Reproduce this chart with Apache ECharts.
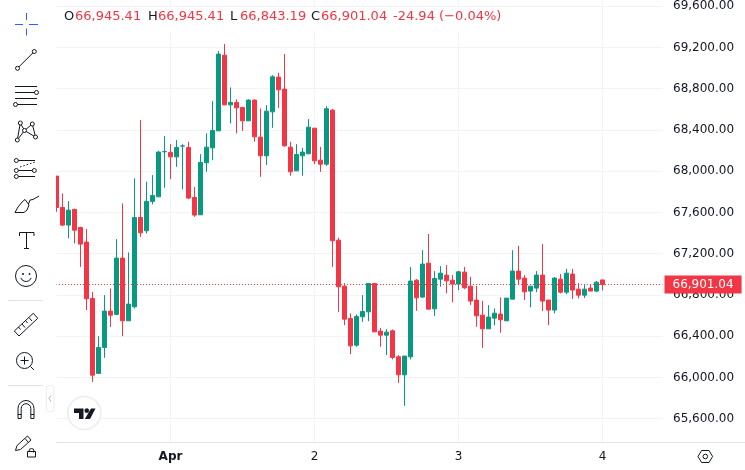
<!DOCTYPE html>
<html>
<head>
<meta charset="utf-8">
<title>chart</title>
<style>
html, body { margin: 0; padding: 0; background: #fff; }
#chart { width: 745px; height: 470px; }
</style>
<script src="https://cdn.jsdelivr.net/npm/echarts@6/dist/echarts.min.js"></script>
</head>
<body>
<div id="chart"></div>
<script>
// hourly candles
var opens = [67952, 67648, 67477, 67629, 67454, 67312, 66766, 66039, 66291, 66643, 66611, 67157, 66549, 66685, 67551, 67422, 67707, 67751, 68188, 68182, 68139, 68243, 68230, 67745, 67577, 68081, 68226, 68391, 69125, 68643, 68667, 68618, 68488, 68689, 68330, 68149, 68575, 68912, 68796, 68233, 68003, 68149, 68168, 68417, 68107, 68068, 68592, 67331, 66885, 66572, 66313, 66588, 66636, 66911, 66449, 66410, 66452, 66200, 66025, 66200, 66943, 66779, 67108, 66665, 66953, 66992, 66943, 66905, 67021, 66885, 66750, 66604, 66471, 66575, 66614, 66549, 66759, 67031, 66963, 66837, 66866, 66992, 66750, 66653, 66953, 66827, 67002, 66856, 66798, 66866, 66837, 66945.41];
var closes = [67648, 67477, 67622, 67428, 67293, 66762, 66022, 66291, 66643, 66604, 67157, 66549, 66711, 67551, 67402, 67707, 67765, 68185, 68190, 68139, 68230, 68245, 67739, 67574, 68085, 68233, 68395, 69135, 68643, 68667, 68614, 68488, 68689, 68333, 68149, 68582, 68915, 68789, 68246, 67994, 68162, 68185, 68427, 68100, 68068, 68605, 67325, 66879, 66565, 66306, 66591, 66640, 66911, 66442, 66410, 66439, 66194, 66025, 66207, 66934, 66772, 67099, 66662, 66960, 67011, 66937, 66905, 67024, 66869, 66740, 66597, 66471, 66585, 66623, 66559, 66769, 67031, 66953, 66830, 66885, 66992, 66740, 66653, 66963, 66827, 67011, 66847, 66798, 66856, 66837, 66924, 66901.04];
var lows = [67606, 67467, 67348, 67299, 67072, 66653, 65957, 66039, 66190, 66491, 66611, 66400, 66549, 66669, 67363, 67396, 67678, 67751, 67839, 67923, 68042, 67823, 67729, 67557, 67577, 67994, 68107, 68391, 68640, 68463, 68366, 68391, 68488, 68285, 67945, 68059, 68420, 68614, 68236, 67955, 68003, 67955, 68168, 68068, 67994, 68052, 67072, 66636, 66507, 66226, 66297, 66539, 66546, 66442, 66297, 66216, 66175, 65948, 65725, 66175, 66646, 66772, 66662, 66597, 66879, 66815, 66727, 66847, 66856, 66701, 66491, 66287, 66471, 66504, 66432, 66549, 66759, 66895, 66750, 66679, 66827, 66643, 66507, 66621, 66815, 66808, 66759, 66766, 66769, 66837, 66827, 66843.19];
var highs = [67952, 67784, 67710, 67637, 67462, 67438, 66830, 66400, 66798, 66863, 67341, 67687, 67212, 67930, 68495, 67897, 67962, 68197, 68340, 68262, 68301, 68262, 68285, 67848, 68165, 68366, 68679, 69164, 69232, 68812, 68696, 68624, 68696, 68696, 68608, 68640, 68931, 68954, 69135, 68285, 68262, 68226, 68505, 68417, 68236, 68631, 68602, 67354, 66914, 66621, 66611, 66798, 66911, 66911, 66481, 66468, 66465, 66216, 66207, 67072, 66953, 67234, 67390, 67031, 67079, 67089, 66992, 67034, 67072, 66975, 66888, 66743, 66701, 66669, 66776, 66769, 67234, 67276, 66992, 66885, 67031, 67293, 66750, 66973, 67002, 67053, 67053, 66914, 66895, 66905, 66934, 66945.41];
var lastPrice = 66901.04;

var priceTicks = [65600, 66000, 66400, 66800, 67200, 67600, 68000, 68400, 68800, 69200, 69600];
var dayIndex = [19, 43, 67, 91];
var dayLabels = ['Apr', '2', '3', '4'];
var legendItems = [
    ['O', 64, '#131722'], ['66,945.41', 75, '#f23645'],
    ['H', 148, '#131722'], ['66,945.41', 158, '#f23645'],
    ['L', 230, '#131722'], ['66,843.19', 240, '#f23645'],
    ['C', 311, '#131722'], ['66,901.04', 321, '#f23645'],
    ['-24.94 (\u22120.04%)', 393, '#f23645']
];

var UP = '#089981', DOWN = '#f23645', GRID = '#f2f3f6', BORDER = '#e0e3eb', INK = '#131722';
var FONT = '"DejaVu Sans", sans-serif';

/* candle data and the category list, 10 empty slots on the right */
var candles = [];
for (var i = 0; i < opens.length; i++) {
    candles.push([opens[i], closes[i], lows[i], highs[i]]);
}
var categories = [];
for (var j = 0; j < opens.length + 10; j++) {
    var pos = dayIndex.indexOf(j);
    if (pos === 0) {
        categories.push({ value: dayLabels[pos], textStyle: { fontWeight: 'bold' } });
    } else {
        categories.push(pos > 0 ? dayLabels[pos] : 'h' + j);
    }
}

function isDay(index) {
    return dayIndex.indexOf(index) >= 0;
}

function formatPrice(v) {
    return v.toLocaleString('en-US', { minimumFractionDigits: 2, maximumFractionDigits: 2 });
}

/* toolbar drawing helpers */
var icons = [];
function line(x1, y1, x2, y2, color, dash) {
    icons.push({
        type: 'line', z: 112, silent: true,
        shape: { x1: x1, y1: y1, x2: x2, y2: y2 },
        style: { stroke: color || INK, lineWidth: 1, lineDash: dash || null }
    });
}
function poly(points, fill) {
    icons.push({
        type: fill ? 'polygon' : 'polyline', z: 110, silent: true,
        shape: { points: points },
        style: fill ? { fill: fill } : { stroke: INK, lineWidth: 1, fill: null }
    });
}
function circle(cx, cy, r, stroke, lw, fill) {
    icons.push({
        type: 'circle', z: 113, silent: true,
        shape: { cx: cx, cy: cy, r: r },
        style: { stroke: stroke || INK, lineWidth: lw || 1, fill: fill || '#fff' }
    });
}
function ring(cx, cy, r, stroke, lw) {
    icons.push({
        type: 'circle', z: 105, silent: true,
        shape: { cx: cx, cy: cy, r: r },
        style: { stroke: stroke || INK, lineWidth: lw || 1, fill: '#fff' }
    });
}
function arc(cx, cy, r, start, end) {
    icons.push({
        type: 'arc', z: 110, silent: true,
        shape: { cx: cx, cy: cy, r: r, startAngle: start, endAngle: end },
        style: { stroke: INK, lineWidth: 1, fill: null }
    });
}

function buildToolbar() {
    // hides the left half of the first candle
    icons.push({
        type: 'rect', z: 50, silent: true,
        shape: { x: 44, y: 0, width: 12, height: 380 },
        style: { fill: '#fff' }
    });
    // cursor
    var blue = '#2962ff';
    line(26.5, 13, 26.5, 20, blue); line(26.5, 28.5, 26.5, 35.5, blue);
    line(15, 24.5, 23, 24.5, blue); line(29, 24.5, 38, 24.5, blue);
    // trend line
    line(17.5, 68.3, 34.3, 51.5); circle(17.5, 68.3, 2); circle(34.3, 51.5, 2);
    // parallel lines
    line(15, 86.5, 37, 86.5); line(15, 92.5, 37, 92.5); line(15, 98.5, 37, 98.5); line(15, 104.5, 37, 104.5);
    circle(36.5, 92.5, 2); circle(15.5, 104.5, 2);
    // pattern
    poly([[17.3, 140], [20.3, 123], [24.5, 130.5], [35.5, 137], [32.3, 124], [24.5, 130.5], [17.3, 140]]);
    circle(20.3, 123, 2); circle(32.3, 124, 2); circle(17.3, 140, 2); circle(35.5, 137, 2); circle(24.5, 130.5, 2);
    // fib
    line(18, 160.5, 35, 160.5); line(18, 170.5, 33, 170.5); line(18, 176.5, 35, 176.5);
    line(20, 167, 35, 162, INK, [1.5, 2]);
    circle(16.3, 160.5, 2); circle(16.3, 170.5, 2); circle(34.3, 170.5, 2); circle(16.3, 176.5, 2);
    // brush
    poly([[15, 212.5], [18, 207], [22, 202], [25, 199.5], [29, 205], [27, 210], [24, 212.5], [15, 212.5]]);
    poly([[28.5, 204], [30, 200], [33, 199.5], [39, 196]]);
    // text
    poly([[19.5, 236], [19.5, 232.5], [34, 232.5], [34, 236]]);
    line(26.5, 232.5, 26.5, 248.5); line(24, 248.5, 29, 248.5);
    // smile
    ring(26, 276, 10.5);
    circle(23, 274, 0.6, INK, 1, INK); circle(29.5, 274, 0.6, INK, 1, INK);
    arc(26, 276, 5.5, 0.35, Math.PI - 0.35);
    line(8, 300.5, 43, 300.5, BORDER);
    // ruler
    poly([[14.3, 331], [33.3, 313.3], [37.7, 318.3], [19, 336], [14.3, 331]]);
    line(18.5, 327, 20.5, 329.5); line(22, 324, 25, 327.5); line(25.5, 320.5, 27.5, 323);
    line(29, 317.5, 32, 321);
    // zoom in
    ring(24.5, 360.5, 8);
    line(24.5, 356.5, 24.5, 364.5); line(20.5, 360.5, 28.5, 360.5); line(30.5, 366.5, 34, 370);
    line(8, 385.5, 43, 385.5, BORDER);
    // magnet
    arc(26, 408.5, 8, Math.PI, Math.PI * 2); arc(26, 408.5, 4.8, Math.PI, Math.PI * 2);
    line(18, 408.5, 18, 418.5); line(34, 408.5, 34, 418.5);
    line(21.2, 408.5, 21.2, 418.5); line(30.8, 408.5, 30.8, 418.5);
    line(18, 418.5, 21.2, 418.5); line(30.8, 418.5, 34, 418.5);
    line(18, 414.5, 21.2, 414.5); line(30.8, 414.5, 34, 414.5);
    // pencil and lock
    poly([[15.5, 450.5], [17, 445.5], [27.5, 436], [31, 440], [20.5, 449.5], [15.5, 450.5]]);
    line(25, 438.5, 28.5, 442.5);
    icons.push({
        type: 'rect', z: 110, silent: true,
        shape: { x: 27.5, y: 451.5, width: 8, height: 5.5 },
        style: { stroke: INK, lineWidth: 1, fill: '#fff' }
    });
    arc(31.5, 451, 2.5, Math.PI, Math.PI * 2.2);
    // collapse handle
    icons.push({
        type: 'rect', z: 110, silent: true,
        shape: { x: 46.5, y: 385.5, width: 7.5, height: 26, r: 2 },
        style: { stroke: '#ececec', lineWidth: 1, fill: '#fff' }
    });
    line(51, 395.5, 49, 398.5, '#b0b3bb'); line(49, 398.5, 51, 401.5, '#b0b3bb');
    // logo
    ring(84.3, 413, 16.5, '#ececec', 1.5);
    poly([[74, 408.5], [83.5, 408.5], [83.5, 419], [79, 419], [79, 413], [74, 413]], '#131722');
    circle(86.8, 410.7, 2.1, '#131722', 0.5, '#131722');
    poly([[91, 408.5], [95.5, 408.5], [90, 419], [84.8, 419]], '#131722');
    // settings
    poly([[698, 456.5], [701.6, 450.5], [709, 450.5], [712.6, 456.5], [709, 462.5], [701.6, 462.5], [698, 456.5]]);
    circle(705.3, 456.5, 2.3);
    // bottom border of the plot
    line(56, 442.5, 745, 442.5, BORDER);
}

function buildLegend() {
    // white strip behind the legend hides the day grid lines
    var out = [{
        type: 'rect', z: 100, silent: true,
        shape: { x: 56, y: 7, width: 450, height: 25 },
        style: { fill: '#fff' }
    }];
    for (var k = 0; k < legendItems.length; k++) {
        out.push({
            type: 'text', z: 101, silent: true, x: legendItems[k][1], y: 17,
            style: {
                text: legendItems[k][0], fill: legendItems[k][2],
                font: '13px ' + FONT, textVerticalAlign: 'middle', verticalAlign: 'middle'
            }
        });
    }
    return out;
}

buildToolbar();

var myChart = echarts.init(document.getElementById('chart'));
var option = {
    animation: false,
    backgroundColor: '#fff',
    grid: { left: 56.5, top: 0, width: 606, height: 442, containLabel: false },
    xAxis: {
        type: 'category',
        data: categories,
        boundaryGap: false,
        axisLine: { show: false },
        axisTick: { show: false },
        axisLabel: {
            interval: function (index) { return isDay(index); },
            hideOverlap: false,
            margin: 9,
            color: INK,
            fontFamily: FONT,
            fontSize: 12
        },
        splitLine: {
            show: true,
            interval: function (index) { return isDay(index); },
            lineStyle: { color: GRID, width: 1 }
        }
    },
    yAxis: {
        type: 'value',
        position: 'right',
        min: 65373.8,
        max: 69659.84,
        axisLine: { show: false },
        axisTick: { show: false, customValues: priceTicks },
        axisLabel: {
            customValues: priceTicks,
            margin: 10.5,
            color: INK,
            fontFamily: FONT,
            fontSize: 12,
            padding: [2, 0, 0, 0],
            formatter: formatPrice
        },
        splitLine: {
            show: true,
            customValues: priceTicks,
            lineStyle: { color: GRID, width: 1 }
        }
    },
    series: [{
        type: 'candlestick',
        data: candles,
        barWidth: 4,
        clip: true,
        itemStyle: {
            color: UP,
            color0: DOWN,
            borderColor: UP,
            borderColor0: DOWN,
            borderWidth: 1
        },
        markLine: {
            silent: true,
            symbol: 'none',
            animation: false,
            lineStyle: { color: DOWN, type: [1, 2], dashOffset: 0.5, width: 1 },
            label: {
                show: true,
                position: 'end',
                distance: 2,
                formatter: function () { return formatPrice(lastPrice); },
                color: '#fff',
                backgroundColor: DOWN,
                fontFamily: FONT,
                fontSize: 12,
                padding: [4, 8, 2, 8]
            },
            data: [{ yAxis: lastPrice }]
        }
    }],
    graphic: { elements: buildLegend().concat(icons) }
};
myChart.setOption(option);
</script>
</body>
</html>
